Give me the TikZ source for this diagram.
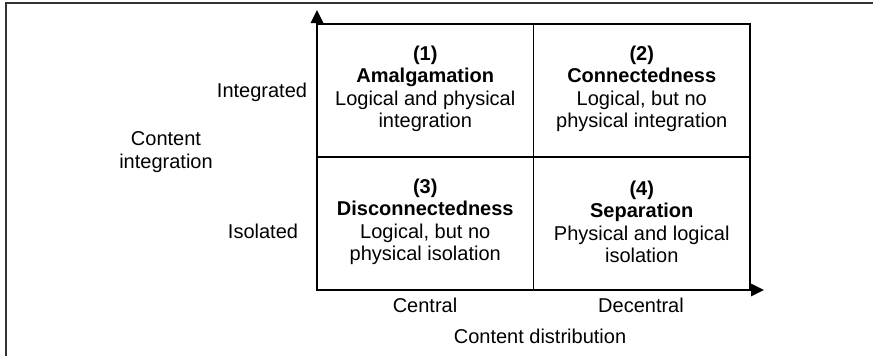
\documentclass[tikz,border=0pt]{standalone}
\usepackage{fontspec}
\setmainfont{Liberation Sans}
\usetikzlibrary{arrows.meta}
\begin{document}
\begin{tikzpicture}[x=1pt,y=-1pt,
  lbl/.style={font=\fontsize{20}{23}\selectfont, align=center, inner sep=0pt},
  cell/.style={draw, line width=1.5pt, minimum width=216.5pt, minimum height=133pt, inner sep=0pt},
  celltext/.style={font=\fontsize{20}{22.5}\selectfont, align=center, inner sep=0pt},
  axis/.style={line width=2.8pt, -{Triangle[length=13pt,width=12pt]}},
  frame/.style={draw=black!80, line width=2pt}]
\useasboundingbox (0,0) rectangle (873,356);
% outer frame (left and top edges)
\draw[frame] (5.5,356) -- (5.5,2.5) -- (873,2.5);
% quadrant cells
\node[cell] (c1) at (425.25,90.5) {};
\node[cell] (c2) at (641.75,90.5) {};
\node[cell] (c3) at (425.25,223.5) {};
\node[cell] (c4) at (641.75,223.5) {};
% quadrant texts
\node[celltext] (t1) at ([yshift=1.5pt]c1.center) {\textbf{(1)}\\\textbf{Amalgamation}\\Logical and physical\\integration};
\node[celltext] (t2) at ([yshift=1.5pt]c2.center) {\textbf{(2)}\\\textbf{Connectedness}\\Logical, but no\\physical integration};
\node[celltext] (t3) at ([yshift=1.5pt]c3.center) {\textbf{(3)}\\\textbf{Disconnectedness}\\Logical, but no\\physical isolation};
\node[celltext] (t4) at ([yshift=1.5pt]c4.center) {\textbf{(4)}\\\textbf{Separation}\\Physical and logical\\isolation};
% axes
\coordinate (origin) at (317,290);
\coordinate (ytip) at (317,10);
\coordinate (xtip) at (764,290);
\draw[axis] ([yshift=-1.4pt]origin) -- (ytip);
\draw[axis] ([xshift=-1.4pt]origin) -- (xtip);
% axis labels
\node[lbl] (integ) at (262,92) {Integrated};
\node[lbl] (isol) at (263,231) {Isolated};
\node[lbl] (ycap) at (166,152) {Content\\integration};
\node[lbl] (central) at (425,305) {Central};
\node[lbl] (decentral) at (641,305) {Decentral};
\node[lbl] (xcap) at (540,336) {Content distribution};
\end{tikzpicture}
\end{document}
